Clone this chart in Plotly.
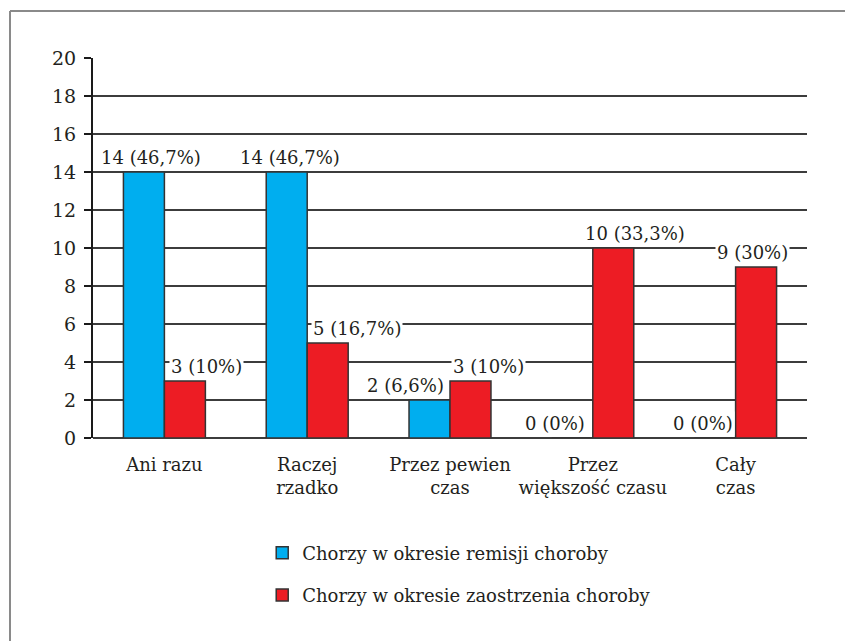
import plotly.graph_objects as go

categories = ["Ani razu", "Raczej<br>rzadko", "Przez pewien<br>czas", "Przez<br>większość czasu", "Cały<br>czas"]
series_names = ["Chorzy w okresie remisji choroby", "Chorzy w okresie zaostrzenia choroby"]
remisja = [14, 14, 2, 0, 0]
zaostrzenie = [3, 5, 3, 10, 9]
remisja_labels = ["14 (46,7%)", "14 (46,7%)", "2 (6,6%)", "0 (0%)", "0 (0%)"]
zaostrzenie_labels = ["3 (10%)", "5 (16,7%)", "3 (10%)", "10 (33,3%)", "9 (30%)"]
y_ticks = [0, 2, 4, 6, 8, 10, 12, 14, 16, 18, 20]

# pixel offsets of the value labels (layout only)
remisja_dx = [-13, -17, -45, -38, -33]
zaostrzenie_dx = [42, 50, 38, 42, 17]

FONT = "DejaVu Serif"
TXT = "#231f20"
GRID = "#3c3c3c"
BLUE = "#00aeef"
RED = "#ed1c24"

x_idx = list(range(len(categories)))

fig = go.Figure()
fig.add_trace(go.Bar(x=x_idx, y=remisja, name=series_names[0], legendgroup="a",
                     marker=dict(color=BLUE, line=dict(color="#333333", width=1.5))))
fig.add_trace(go.Bar(x=x_idx, y=zaostrzenie, name=series_names[1], legendgroup="b",
                     marker=dict(color=RED, line=dict(color="#333333", width=1.5))))

for xi, v, t, dx in zip(x_idx, remisja, remisja_labels, remisja_dx):
    fig.add_annotation(x=xi, y=v, text=t, showarrow=False, xanchor="center", yanchor="middle",
                       xshift=dx, yshift=15, bgcolor="white", borderpad=1,
                       font=dict(family=FONT, size=18, color=TXT))
for xi, v, t, dx in zip(x_idx, zaostrzenie, zaostrzenie_labels, zaostrzenie_dx):
    fig.add_annotation(x=xi, y=v, text=t, showarrow=False, xanchor="center", yanchor="middle",
                       xshift=dx, yshift=15, bgcolor="white", borderpad=1,
                       font=dict(family=FONT, size=18, color=TXT))

# outer frame (only top and left edges visible in the original)
fig.add_shape(type="line", xref="paper", yref="paper", x0=-83/714, x1=850/714 , y0=(438-11)/380, y1=(438-11)/380,
              line=dict(color="#8a8a8a", width=2))
fig.add_shape(type="line", xref="paper", yref="paper", x0=-83/714, x1=-83/714, y0=(438-11)/380, y1=(438-650)/380,
              line=dict(color="#8a8a8a", width=2))

fig.update_layout(
    width=845, height=641,
    margin=dict(l=93, r=38, t=58, b=203),
    paper_bgcolor="white", plot_bgcolor="white",
    barmode="group", bargap=0.426, bargroupgap=0,
    font=dict(family=FONT, size=18, color=TXT),
    showlegend=True,
    legend=dict(orientation="v", x=0.237, xanchor="left", y=-0.254, yanchor="top",
                font=dict(family=FONT, size=18, color=TXT), tracegroupgap=16,
                traceorder="grouped", bgcolor="rgba(0,0,0,0)"),
    xaxis=dict(range=[-0.5, 4.5], tickvals=x_idx, ticktext=categories, showgrid=False,
               showline=False, zeroline=False, ticks="", ticklabelstandoff=14,
               tickfont=dict(family=FONT, size=18, color=TXT)),
    yaxis=dict(range=[0, 20], tickvals=y_ticks, showgrid=True, gridcolor=GRID, gridwidth=2,
               showline=True, linecolor="#1a1a1a", linewidth=2, ticks="outside", ticklen=7,
               tickcolor="#1a1a1a", tickwidth=2, zeroline=True, zerolinecolor=GRID, zerolinewidth=2,
               ticklabelstandoff=4, tickfont=dict(family=FONT, size=19, color=TXT)),
)

fig.write_html("out.html")
